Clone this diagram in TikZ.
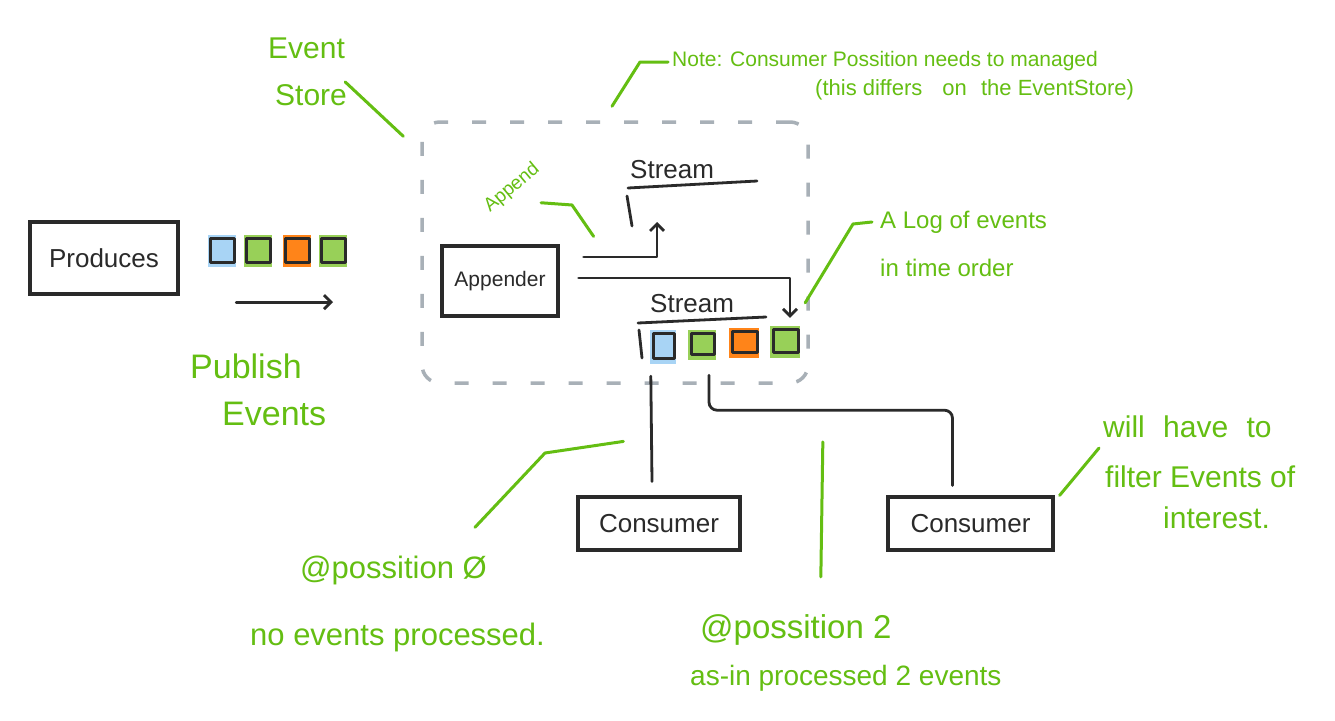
\documentclass[tikz,border=0pt]{standalone}
\usepackage{fontspec}
\setmainfont{Liberation Sans}
\usetikzlibrary{arrows.meta}
\definecolor{ink}{RGB}{42,42,42}
\definecolor{note}{RGB}{100,190,18}
\definecolor{evblue}{RGB}{168,212,245}
\definecolor{evgreen}{RGB}{152,208,88}
\definecolor{evorange}{RGB}{255,132,25}
\definecolor{dashgray}{RGB}{168,176,183}
\begin{document}
\begin{tikzpicture}[x=1pt,y=-1pt,
 box/.style={draw=ink, line width=3.2pt, inner sep=0pt, font=\fontsize{26}{30}\selectfont, text=ink},
 line/.style={draw=ink, line width=2.8pt, line cap=round, line join=round},
 arr/.style={line, -{Straight Barb[length=7pt,width=14pt]}},
 lead/.style={draw=note, line width=3pt, line cap=round, line join=round},
 gtext/.style={text=note, inner sep=0pt, anchor=base west},
 btext/.style={text=ink, inner sep=0pt, anchor=base west},
 evsq/.style={minimum width=28pt, minimum height=32pt, inner sep=0pt},
]
\useasboundingbox (0,0) rectangle (1335,720);
\fill[white] (0,0) rectangle (1335,720);

% event store boundary
\node[draw=dashgray, line width=3.5pt, dash pattern=on 14pt off 24pt, rounded corners=18pt,
      minimum width=386pt, minimum height=261pt, inner sep=0pt] (store) at (615,252.5) {};

% producer
\node[box, minimum width=148pt, minimum height=72pt] (prod) at (104,258) {Produces};
\foreach \n/\c/\x in {p1/evblue/222, p2/evgreen/258, p3/evorange/297, p4/evgreen/333}{
  \node[evsq, fill=\c] (\n) at (\x,251) {};
  \draw[line] ([shift={(3pt,-4pt)}]\n.north west) rectangle ([shift={(-2pt,5pt)}]\n.south east);
}
\draw[arr] ([yshift=-35pt]p1.south east) -- ([yshift=-35pt]p4.south);
\node[gtext, font=\fontsize{34}{40}\selectfont] (pub1) at (190,378) {Publish};
\node[gtext, font=\fontsize{34}{40}\selectfont] (pub2) at (222,425) {Events};

% event store label
\node[gtext, font=\fontsize{30}{36}\selectfont] (es1) at (268,58) {Event};
\node[gtext, font=\fontsize{30}{36}\selectfont] (es2) at (275,105) {Store};
\draw[lead] ([xshift=-2pt,yshift=2pt]es2.north east) -- ([xshift=-17pt,yshift=-16pt]store.north west);

% note
\node[gtext, font=\fontsize{21}{24}\selectfont] (note1) at (672,66) {Note: Consumer Possition needs to managed};
\node[gtext, font=\fontsize{22}{24}\selectfont] (note2) at (815,95) {(this differs\hspace{14pt} on\hspace{8pt} the EventStore)};
\draw[lead] ([xshift=-3pt,yshift=14pt]store.north) -- (640,62) -- ([xshift=-4pt,yshift=4pt]note1.base west);

% appender
\node[box, font=\fontsize{21}{24}\selectfont, minimum width=116pt, minimum height=70pt] (app) at (500,281) {Appender};

% stream 1
\node[btext, font=\fontsize{26}{30}\selectfont] (s1) at (630,178) {Stream};
\draw[line] ([xshift=-2pt,yshift=-10pt]s1.base west) -- ++(129,-7);
\draw[line] ([xshift=-3pt,yshift=-18pt]s1.base west) -- ++(5,30);
\draw[arr] ([xshift=24pt,yshift=24pt]app.east) -| ([xshift=27pt,yshift=-44pt]s1.base west);

% stream 2
\node[btext, font=\fontsize{26}{30}\selectfont] (s2) at (650,312) {Stream};
\draw[line] ([xshift=-12pt,yshift=-11pt]s2.base west) -- ++(128,-6);
\draw[line] ([xshift=-11pt,yshift=-18pt]s2.base west) -- ++(3,28);
\node[evsq, fill=evblue, minimum width=26pt, minimum height=34pt] (e1) at (663,347) {};
\node[evsq, fill=evgreen, minimum height=30pt] (e2) at (702,345) {};
\node[evsq, fill=evorange, minimum width=30pt, minimum height=30pt] (e3) at (744,343) {};
\node[evsq, fill=evgreen, minimum width=30pt] (e4) at (785,342) {};
\foreach \n in {e1,e2,e3,e4}{
  \draw[line] ([shift={(4pt,-4pt)}]\n.north west) rectangle ([shift={(-2pt,6pt)}]\n.south east);
}
\draw[arr] ([xshift=19pt,yshift=3pt]app.east) -| ([xshift=5pt,yshift=8pt]e4.north);

% append label
\node[text=note, rotate=40, font=\fontsize{19}{21}\selectfont, inner sep=0pt] (apd) at (512,188) {Append};
\draw[lead] ([xshift=-2pt,yshift=-29pt]apd.south east) -- (572,205) -- ([xshift=34pt,yshift=8pt]app.north east);

% log label
\node[gtext, font=\fontsize{24}{28}\selectfont] (log1) at (880,228) {A Log of events};
\node[gtext, font=\fontsize{24}{28}\selectfont] (log2) at (880,276) {in time order};
\draw[lead] ([xshift=5pt,yshift=23pt]e4.north east) -- (853,224) -- ([xshift=-8pt,yshift=6pt]log1.base west);

% consumers
\node[box, minimum width=162pt, minimum height=53pt] (c1) at (659,523.5) {Consumer};
\node[box, minimum width=165pt, minimum height=53pt] (c2) at (970.5,523.5) {Consumer};
\draw[line] ([xshift=1pt,yshift=-12pt]e1.south west) -- ([xshift=-7pt,yshift=14pt]c1.north);
\draw[line, rounded corners=8pt] ([xshift=7pt,yshift=-15pt]e2.south) -- ++(0,35) -| ([xshift=-18pt,yshift=10pt]c2.north);

% position labels
\node[gtext, font=\fontsize{31}{36}\selectfont] (pos0) at (300,578) {@possition Ø};
\node[gtext, font=\fontsize{31}{36}\selectfont] (np) at (250,645) {no events processed.};
\draw[lead] ([xshift=-12pt,yshift=28pt]pos0.north east) -- (545,453) -- ([xshift=47pt,yshift=54pt]c1.north west);

\node[gtext, font=\fontsize{33}{38}\selectfont] (pos2) at (700,638) {@possition 2};
\node[gtext, font=\fontsize{28}{32}\selectfont] (asin) at (690,685) {as-in processed 2 events};
\draw[lead] ([xshift=25pt,yshift=37pt]pos2.north) -- ++(2,-135);

% filter label
\node[gtext, font=\fontsize{30}{34}\selectfont] (w1) at (1103,437) {will\hspace{10pt} have\hspace{10pt} to};
\node[gtext, font=\fontsize{30}{34}\selectfont] (w2) at (1105,487) {filter Events of};
\node[gtext, font=\fontsize{30}{34}\selectfont] (w3) at (1163,528) {interest.};
\draw[lead] ([xshift=5pt]c2.north east) -- ([xshift=-6pt,yshift=17pt]w2.north west);
\end{tikzpicture}
\end{document}
